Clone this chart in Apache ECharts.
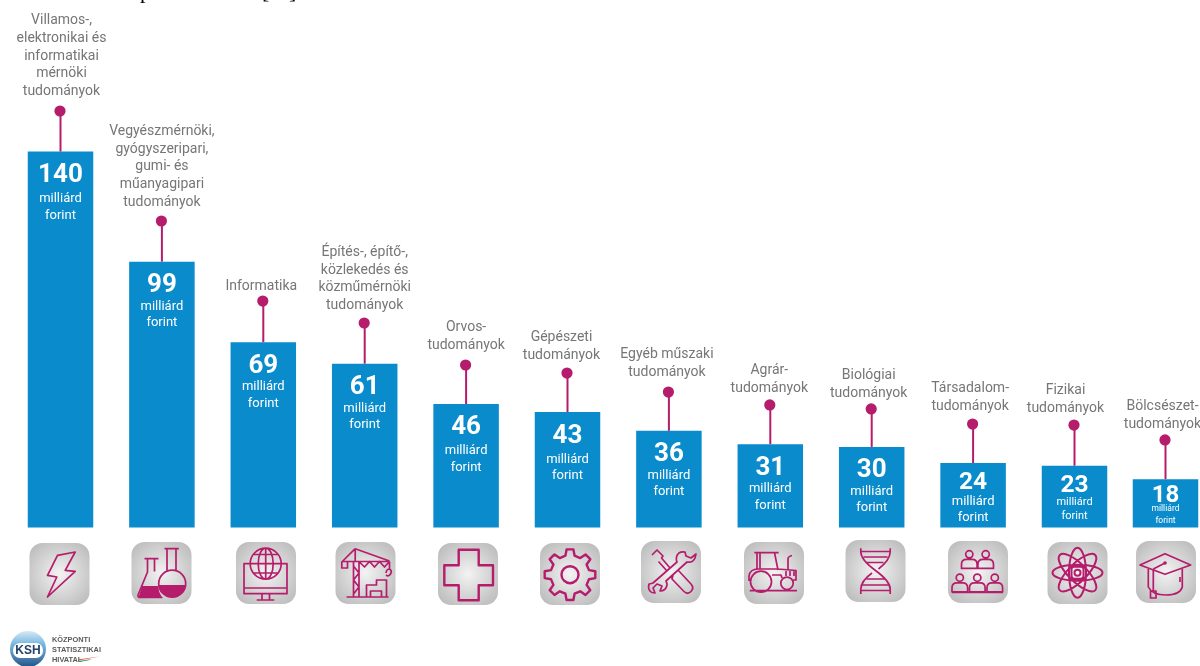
<!DOCTYPE html>
<html lang="hu">
<head>
<meta charset="utf-8">
<title>Kutatás-fejlesztési ráfordítások tudományáganként</title>
<style>
  html, body { margin: 0; padding: 0; background: #fff; }
  #chart { width: 1200px; height: 666px; }
</style>
<script src="https://cdn.jsdelivr.net/npm/echarts@6/dist/echarts.min.js"></script>
</head>
<body>
<div id="chart"></div>
<script>
// Spending per field of science, in billions of forints
const categories = [
  'Villamos-,\nelektronikai és\ninformatikai\nmérnöki\ntudományok',
  'Vegyészmérnöki,\ngyógyszeripari,\ngumi- és\nműanyagipari\ntudományok',
  'Informatika',
  'Építés-, építő-,\nközlekedés és\nközműmérnöki\ntudományok',
  'Orvos-\ntudományok',
  'Gépészeti\ntudományok',
  'Egyéb műszaki\ntudományok',
  'Agrár-\ntudományok',
  'Biológiai\ntudományok',
  'Társadalom-\ntudományok',
  'Fizikai\ntudományok',
  'Bölcsészet-\ntudományok'
];
const values = [140, 99, 69, 61, 46, 43, 36, 31, 30, 24, 23, 18];
const unitLines = ['milliárd', 'forint'];

// Layout tweaks for the pins and their captions, one entry per column
const pinLift = [40.6, 40.7, 41.2, 40.7, 39, 39, 38.8, 39.3, 38, 39, 40.7, 39.2];
const captionGap = [11, 10, 6, 9, 11, 9, 11, 8, 7, 9, 8, 7];
const captionShift = [1, 0, -2, 0, 0, -6, -2, -1, -3, -3, -9, -3];
const labelStyle = ['nb', 'n', 'n', 'n', 'nb', 'nb', 'n', 'n', 'n', 'nm', 'nm', 'ns'];
const labelTop = { n: 11.5, nb: 9, nm: 10, ns: 10 };

const BLUE = '#0a8bcb';
const MAGENTA = '#b51c6b';
const CAPTION = '#767676';
const FONT = 'Roboto, "Noto Sans", sans-serif';

function barLabel(i) {
  const unit = i === 11 ? 's' : i === 10 ? 'm' : 't';
  return '{' + labelStyle[i] + '|' + values[i] + '}\n{' + unit + '|' + unitLines[0] + '}\n{' + unit + '|' + unitLines[1] + '}';
}

function barData(from, to) {
  return values.map((v, i) => {
    if (i < from || i >= to) return '-';
    return { value: v, label: { distance: labelTop[labelStyle[i]] } };
  });
}

function renderPin(params, api) {
  const i = api.value(0);
  const pt = api.coord([i, api.value(1)]);
  const dotY = pt[1] - pinLift[i];
  return {
    type: 'group',
    children: [
      { type: 'line', shape: { x1: pt[0], y1: dotY, x2: pt[0], y2: pt[1] },
        style: { stroke: MAGENTA, lineWidth: 2 } },
      { type: 'circle', shape: { cx: pt[0] - 0.5, cy: dotY, r: 5.6 }, style: { fill: MAGENTA } },
      { type: 'text', style: {
          text: categories[i], x: pt[0] + captionShift[i], y: dotY - captionGap[i],
          align: 'center', verticalAlign: 'bottom',
          font: '14px ' + FONT, lineHeight: 17.6, fill: CAPTION } }
    ]
  };
}

function columnSeries(axis, from, to) {
  const white = { color: '#fff', fontFamily: FONT, align: 'center' };
  return [
    {
      type: 'bar', xAxisIndex: axis, yAxisIndex: axis, barWidth: 65.5, silent: true,
      data: barData(from, to),
      itemStyle: { color: BLUE },
      label: {
        show: true, position: 'insideTop', color: '#fff', fontFamily: FONT,
        formatter: p => barLabel(p.dataIndex),
        rich: {
          n: { ...white, fontSize: 26, fontWeight: 700, lineHeight: 25 },
          nb: { ...white, fontSize: 26, fontWeight: 700, lineHeight: 30 },
          nm: { ...white, fontSize: 24.5, fontWeight: 700, lineHeight: 20 },
          ns: { ...white, fontSize: 24, fontWeight: 700, lineHeight: 14 },
          t: { ...white, fontSize: 13, lineHeight: 16.5 },
          m: { ...white, fontSize: 11, lineHeight: 14 },
          s: { ...white, fontSize: 8.5, lineHeight: 12 }
        }
      }
    },
    {
      type: 'custom', xAxisIndex: axis, yAxisIndex: axis, silent: true, clip: false,
      renderItem: renderPin,
      encode: { x: 0, y: 1 },
      data: values.map((v, i) => [i, v]).filter(d => d[0] >= from && d[0] < to)
    }
  ];
}

/* Icon outlines, drawn in a 60 x 62 tile */
function circle(cx, cy, r) {
  return `M${cx - r} ${cy}A${r} ${r} 0 1 0 ${cx + r} ${cy}A${r} ${r} 0 1 0 ${cx - r} ${cy}Z`;
}
function ellipse(cx, cy, rx, ry, deg) {
  const a = deg * Math.PI / 180, dx = rx * Math.cos(a), dy = rx * Math.sin(a);
  return `M${cx - dx} ${cy - dy}A${rx} ${ry} ${deg} 1 0 ${cx + dx} ${cy + dy}A${rx} ${ry} ${deg} 1 0 ${cx - dx} ${cy - dy}Z`;
}
function gear(cx, cy, teeth, rOut, rIn) {
  let d = '';
  const step = Math.PI * 2 / teeth;
  for (let k = 0; k < teeth; k++) {
    const a = k * step - Math.PI / 2;
    const pts = [[rIn, a - step * 0.30], [rOut, a - step * 0.17], [rOut, a + step * 0.17], [rIn, a + step * 0.30]];
    pts.forEach((p, j) => {
      const x = (cx + p[0] * Math.cos(p[1])).toFixed(1), y = (cy + p[0] * Math.sin(p[1])).toFixed(1);
      d += ((k === 0 && j === 0) ? 'M' : 'L') + x + ' ' + y;
    });
  }
  return d + 'Z';
}
function person(cx, headY, r, w, h) {
  const start = headY + r + 1.5;
  return circle(cx, headY, r) +
    `M${cx - w} ${start + h}V${start + 5}Q${cx - w} ${start} ${cx - w + 5} ${start}H${cx + w - 5}Q${cx + w} ${start} ${cx + w} ${start + 5}V${start + h}Z`;
}

const icons = [
  { x: 29.5, y: 543, line: 'M28 12.3L45.7 9L35.7 27.3L45.7 28.3L18 54L27.3 34L18 32.3Z' },
  { x: 131.5, y: 542,
    line: circle(40.7, 41.7, 13.5) + 'M33 6.7H47.3M35.5 6.7V28.8M44.5 6.7V28.8' +
      'M13 16.7H27M16 16.7V30L6.5 53Q6 55.5 9 55.5H31M23 16.7V29.5',
    fill: 'M27.3 43H54.2A13.5 13.5 0 0 1 27.3 43ZM10.5 44H26.5Q27 50 30.5 55.5H7Z' },
  { x: 236, y: 542,
    line: circle(29.7, 21.7, 15.5) + ellipse(29.7, 21.7, 15.5, 7.5, 90) + 'M29.7 6.2V37.2M14.2 21.7H45.2M17 12.5H42.4M17 31H42.4' +
      'M14 21.7H8V51.7H51V21.7H45.2M8 46H51M26 51.7V58M33.5 51.7V58M20.7 58H38.3' },
  { x: 335.5, y: 542,
    line: 'M19.7 6.7L6.3 20M19.7 6.7L54 19M6.3 19.5H54M6.3 19.5V26H12V19.5M19.7 6.7V19.5M18 19.5V55M23.5 19.5V55' +
      'M23.5 19.5L29 25L34 19.5L39 25L44 19.5L49 25L54 19.5M18 24L23.5 31L18 38L23.5 45L18 52M54 19.5V27' +
      'M50.5 31Q51 27 54 27Q57 29 55 32Q53 35 50.5 33M11 55H53M31 55V43H41V38H51V55M35 55V49H46V55' },
  { x: 438, y: 543, lw: 2.4,
    line: 'M20.7 6.7H40.7V22.3H55V42.3H40.7V57.3H20.7V42.3H6.3V22.3H20.7Z' },
  { x: 540, y: 543, lw: 2.4, line: gear(30, 31.7, 8, 25.5, 19.5) + circle(30, 31.7, 8.5) },
  { x: 641, y: 541,
    line: 'M11 14L16 9L22 15L20.5 17L29 27M17.5 20.5L26 30' +
      'M32 34L37 29L50 43Q53.5 47 50 50.5Q46.5 54 43 50.5L31 38Z' +
      'M44 11Q37 10 35.5 16Q35 19 36 21L12 42Q9 43 8 43L7.5 46Q8 52 14 52L12 47L16 43L21 45L19 50Q25 50 26 44Q26 42 25 40L46 21Q52 22 54 17L55 13L50 17L45 15Z' },
  { x: 744, y: 542,
    line: circle(17, 39.7, 10.5) + circle(43, 41.3, 6.2) + 'M5.7 48.7H53M10.3 10.7H34.7M13 10.7V27M16 10.7V27M30.5 10.7L34 28' +
      'M5 34Q6 27 14 27H34L52 28.5V38H49M44 28V17Q44 14.5 48 13.5M28 33H37L38 36M42 29V34M46 29V34M50 29V34M5 34V39' },
  { x: 845.5, y: 540,
    line: 'M15.3 8.3V12Q15.5 20 30 30.5Q44.5 41 44.7 49V54M44.7 8.3V12Q44.5 20 33 29M26.5 33Q15.5 41 15.3 49V54' +
      'M15.3 11.5H44M18 17H42M21 22.5H38M21 39H39M17 45H43M15.3 50.5H44.7' },
  { x: 948, y: 541,
    line: person(21.3, 13.3, 3.6, 7.8, 9) + person(37.7, 13.3, 3.6, 7.8, 9) +
      person(11.8, 36.7, 3.6, 7.8, 9) + person(29.3, 36.7, 3.6, 7.8, 9) + person(46.8, 36.7, 3.6, 7.8, 9) +
      'M4 51.5H55' },
  { x: 1047.5, y: 542, lw: 2,
    line: ellipse(30, 30.7, 25, 8, 0) + ellipse(30, 30.7, 25, 8.5, 90) + ellipse(30, 30.7, 25, 9, 45) + ellipse(30, 30.7, 25, 9, -45) +
      circle(30, 30.7, 3) + 'M24 27Q24 24.7 27 24.7H33Q36 24.7 36 27V34Q36 36.7 33 36.7H27Q24 36.7 24 34Z' },
  { x: 1136, y: 541,
    line: 'M29 12.7L54.7 24L29 33.3L4 24ZM12.3 28V46Q16 54 30 54Q44 54 46.3 46V28M17.3 28V50M14.5 50H20V57H14.5ZM17.3 28L29 22' +
      'M44 36V41', fill: circle(29, 22, 1.8) }
];

// The graphic component takes registered shapes rather than raw path strings
function pathShape(name, pathData) {
  echarts.graphic.registerShape(name, echarts.graphic.extendPath(pathData, {}));
  return name;
}

function iconElement(ic, n) {
  const children = [{
    type: 'rect', shape: { x: 0, y: 0, width: 60, height: 62, r: 13 },
    style: { fill: { type: 'radial', x: 0.5, y: 0.5, r: 0.68,
      colorStops: [{ offset: 0, color: '#f3f3f3' }, { offset: 1, color: '#b9b9b9' }] } }
  }];
  if (ic.fill) {
    children.push({ type: pathShape('iconFill' + n, ic.fill), style: { fill: MAGENTA, stroke: null } });
  }
  children.push({ type: pathShape('iconLine' + n, ic.line),
    style: { fill: 'none', stroke: MAGENTA, lineWidth: ic.lw || 1.7, lineJoin: 'round' } });
  return { type: 'group', x: ic.x, y: ic.y, silent: true, children };
}

/* KSH badge in the lower left corner */
const badge = {
  type: 'group', silent: true,
  children: [
    { type: 'circle', shape: { cx: 28, cy: 649, r: 18 },
      style: { fill: { type: 'linear', x: 0, y: 0, x2: 0, y2: 1, colorStops: [
        { offset: 0, color: '#d6eaf6' }, { offset: 0.4, color: '#6fb2de' },
        { offset: 0.62, color: '#5e93bf' }, { offset: 1, color: '#1f5587' }] } } },
    { type: 'rect', shape: { x: 13, y: 643, width: 30, height: 15, r: 7 }, style: { fill: '#fff' } },
    { type: 'text', style: { text: 'KSH', x: 28, y: 651, align: 'center', verticalAlign: 'middle',
        font: '700 12px "Liberation Sans", sans-serif', fill: '#23436b' } },
    { type: 'text', style: { text: 'KÖZPONTI\nSTATISZTIKAI\nHIVATAL', x: 52, y: 635,
        font: '700 7.4px "Liberation Sans", sans-serif', lineHeight: 9.8, fill: '#5a5a5a' } },
    { type: 'polygon', shape: { points: [[78, 659.5], [100, 656.5], [92, 658], [78, 660.5]] }, style: { fill: '#d5463d' } },
    { type: 'polygon', shape: { points: [[78, 661], [92, 659], [88, 660.5], [78, 662]] }, style: { fill: '#4f9d57' } }
  ]
};

/* Last line of the running text cut by the top edge */
const clippedLine = [['p', 140], ['[', 262], [']', 289]].map(([text, x]) => ({
  type: 'text', silent: true,
  style: { text, x, y: 3, font: '22px "Liberation Serif", serif', fill: '#000', verticalAlign: 'bottom' }
}));

const gridTop = 124.75, gridHeight = 402.75, columnStep = 101.4;
const axisX = { type: 'category', data: categories, show: false };
const axisY = { type: 'value', min: 0, max: 150, show: false };

const option = {
  animation: false,
  backgroundColor: '#fff',
  // The last column sits a little closer to its neighbour, hence the shifted second grid
  grid: [
    { left: 9.8, top: gridTop, width: columnStep * 12, height: gridHeight, outerBoundsMode: 'none' },
    { left: -0.6, top: gridTop, width: columnStep * 12, height: gridHeight, outerBoundsMode: 'none' }
  ],
  xAxis: [Object.assign({ gridIndex: 0 }, axisX), Object.assign({ gridIndex: 1 }, axisX)],
  yAxis: [Object.assign({ gridIndex: 0 }, axisY), Object.assign({ gridIndex: 1 }, axisY)],
  series: [...columnSeries(0, 0, 11), ...columnSeries(1, 11, 12)],
  graphic: { elements: [...icons.map(iconElement), badge, ...clippedLine] }
};

const chart = echarts.init(document.getElementById('chart'), null, { renderer: 'canvas' });
chart.setOption(option);
</script>
</body>
</html>
